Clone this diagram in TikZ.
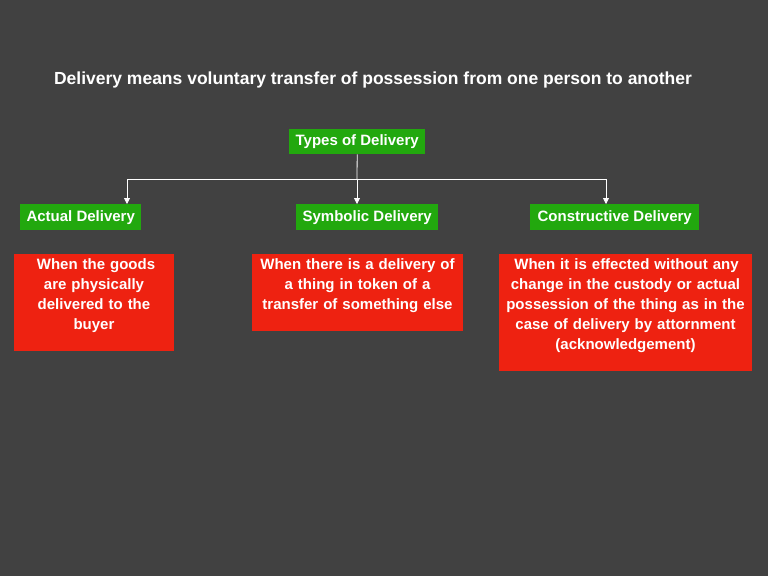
\documentclass[tikz,border=0pt]{standalone}
\usepackage{fontspec}
\setmainfont{Liberation Sans}
\usetikzlibrary{arrows.meta}
\definecolor{bg}{HTML}{414141}
\definecolor{gbox}{HTML}{22A80E}
\definecolor{rbox}{HTML}{EE2211}
\begin{document}
\begin{tikzpicture}[x=1pt,y=-1pt,
  gb/.style={fill=gbox,text=white,font=\bfseries\fontsize{15}{17}\selectfont,inner sep=0pt,anchor=north west},
  rb/.style={fill=rbox,text=white,font=\bfseries\fontsize{15}{20}\selectfont,inner sep=0pt,anchor=north west,align=center},
  conn/.style={white,line width=0.8pt},
  arr/.style={conn,-{Triangle[length=6pt,width=6pt]}}]
\fill[bg] (0,0) rectangle (768,576);
\useasboundingbox (0,0) rectangle (768,576);
\node[text=white,font=\bfseries\fontsize{17.5}{20}\selectfont] (title) at (373,80) {Delivery means voluntary transfer of possession from one person to another};
\node[gb,minimum width=136pt,minimum height=25pt] (types) at (289,129) {Types of Delivery};
\node[gb,minimum width=121pt,minimum height=26pt] (act) at (20,204) {Actual Delivery};
\node[gb,minimum width=142pt,minimum height=26pt] (sym) at (296,204) {Symbolic Delivery};
\node[gb,minimum width=169pt,minimum height=26pt] (con) at (530,204) {Constructive Delivery};
\node[rb,minimum width=160pt,minimum height=97pt] (ra) at (14,254) {};
\node[rb,text width=160pt,anchor=north] at (94,258) {\hspace*{4pt}When the goods\\are physically\\delivered to the\\buyer};
\node[rb,minimum width=211pt,minimum height=77pt] (rs) at (252,254) {};
\node[rb,text width=211pt,anchor=north] at (357.5,258) {When there is a delivery of\\a thing in token of a\\transfer of something else};
\node[rb,minimum width=253pt,minimum height=117pt] (rc) at (499,254) {};
\node[rb,text width=253pt,anchor=north] at (625.5,258) {\hspace*{2pt}When it is effected without any\\change in the custody or actual\\possession of the thing as in the\\case of delivery by attornment\\(acknowledgement)};
\coordinate (j) at (357,179);
\coordinate (jl) at (127,179);
\coordinate (jr) at (606,179);
\draw[conn] (types.south) -- (j);
\draw[conn] (jl) -- (jr);
\draw[arr] (jl) -- (jl |- act.north);
\draw[arr] (j) -- (j |- sym.north);
\draw[arr] (jr) -- (jr |- con.north);
\end{tikzpicture}
\end{document}
